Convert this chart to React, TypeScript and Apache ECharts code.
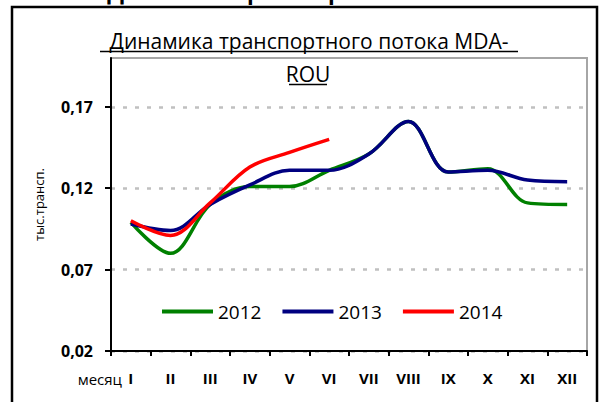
import React, { useEffect, useRef } from "react";
import * as echarts from "echarts";

const months = ["I", "II", "III", "IV", "V", "VI", "VII", "VIII", "IX", "X", "XI", "XII"];
const y2012 = [0.099, 0.080, 0.110, 0.121, 0.121, 0.131, 0.141, 0.161, 0.130, 0.132, 0.111, 0.110];
const y2013 = [0.098, 0.094, 0.110, 0.122, 0.131, 0.131, 0.141, 0.161, 0.130, 0.131, 0.125, 0.124];
const y2014 = [0.100, 0.091, 0.111, 0.133, 0.142, 0.150];
const yTickValues = [0.02, 0.07, 0.12, 0.17];
const seriesNames = ["2012", "2013", "2014"];
const seriesColors = ["#008000", "#000080", "#ff0000"];

const FONT = "'Open Sans', 'Noto Sans', sans-serif";

export default function App() {
  const ref = useRef<HTMLDivElement>(null);
  useEffect(() => {
    if (!ref.current) return;
    const chart = echarts.init(ref.current, null, { renderer: "svg" });
    const data = [y2012, y2013, y2014];
    chart.setOption({
      animation: false,
      backgroundColor: "#ffffff",
      textStyle: { fontFamily: FONT },
      grid: {
        left: 111,
        top: 58,
        width: 476,
        height: 293,
        show: true,
        borderColor: "#a6a6a6",
        borderWidth: 2,
        backgroundColor: "transparent",
      },
      legend: {
        left: 157,
        top: 297,
        icon: "rect",
        itemWidth: 51,
        itemHeight: 4,
        itemGap: 21,
        textStyle: { fontFamily: FONT, fontSize: 19, color: "#000" },
        data: seriesNames,
      },
      xAxis: {
        type: "category",
        data: months,
        boundaryGap: true,
        axisLine: { lineStyle: { color: "#000", width: 2 } },
        axisTick: { show: true, length: 5, lineStyle: { color: "#000", width: 2 } },
        axisLabel: {
          margin: 19,
          fontFamily: FONT,
          fontWeight: "bold",
          fontSize: 15,
          color: "#000",
        },
      },
      yAxis: {
        type: "value",
        min: 0.02,
        max: 0.2,
        interval: 0.05,
        name: "тыс.трансп.",
        nameLocation: "middle",
        nameRotate: 90,
        nameGap: 66,
        nameTextStyle: { fontFamily: FONT, fontSize: 13, color: "#000" },
        axisLine: { show: true, lineStyle: { color: "#000", width: 2 } },
        axisTick: {
          show: true,
          length: 6,
          customValues: yTickValues,
          lineStyle: { color: "#000", width: 2 },
        },
        axisLabel: {
          margin: 18,
          customValues: yTickValues,
          fontFamily: FONT,
          fontWeight: "bold",
          fontSize: 16,
          color: "#000",
          formatter: (v: number) => (v > 0.19 ? "" : v.toFixed(2).replace(".", ",")),
        },
        splitLine: {
          show: true,
          lineStyle: { color: "#c0c0c0", width: 2.5, type: [4, 8] },
        },
      },
      series: seriesNames.map((name, i) => ({
        name,
        type: "line",
        data: data[i],
        smooth: 0.35,
        symbol: "none",
        lineStyle: { color: seriesColors[i], width: 3.5 },
        itemStyle: { color: seriesColors[i] },
        z: 3 + i,
      })),
      graphic: [
        {
          type: "rect",
          silent: true,
          shape: { x: 12, y: 7, width: 585, height: 520 },
          style: { fill: "none", stroke: "#000", lineWidth: 2.5 },
        },
        {
          type: "text",
          silent: true,
          x: 300,
          y: -9,
          style: {
            text: "Динамика транспортного потока",
            font: "bold 22px " + FONT,
            fill: "#000",
            align: "center",
            verticalAlign: "middle",
          },
        },
        {
          type: "text",
          silent: true,
          x: 309,
          y: 41,
          style: {
            text: "Динамика транспортного потока MDA-",
            font: "21px " + FONT,
            fill: "#000",
            align: "center",
            verticalAlign: "middle",
          },
        },
        {
          type: "line",
          silent: true,
          shape: { x1: 100, y1: 51.5, x2: 518, y2: 51.5 },
          style: { stroke: "#000", lineWidth: 1.5 },
        },
        {
          type: "text",
          silent: true,
          x: 308,
          y: 74,
          style: {
            text: "ROU",
            font: "21px " + FONT,
            fill: "#000",
            align: "center",
            verticalAlign: "middle",
          },
        },
        {
          type: "line",
          silent: true,
          shape: { x1: 289, y1: 84.5, x2: 327, y2: 84.5 },
          style: { stroke: "#000", lineWidth: 1.5 },
        },
        {
          type: "text",
          silent: true,
          x: 122,
          y: 379,
          style: {
            text: "месяц",
            font: "15px " + FONT,
            fill: "#000",
            align: "right",
            verticalAlign: "middle",
          },
        },
      ],
    });
    return () => chart.dispose();
  }, []);
  return (
    <div
      ref={ref}
      style={{ position: "absolute", left: 0, top: 0, width: 603, height: 402 }}
    />
  );
}
